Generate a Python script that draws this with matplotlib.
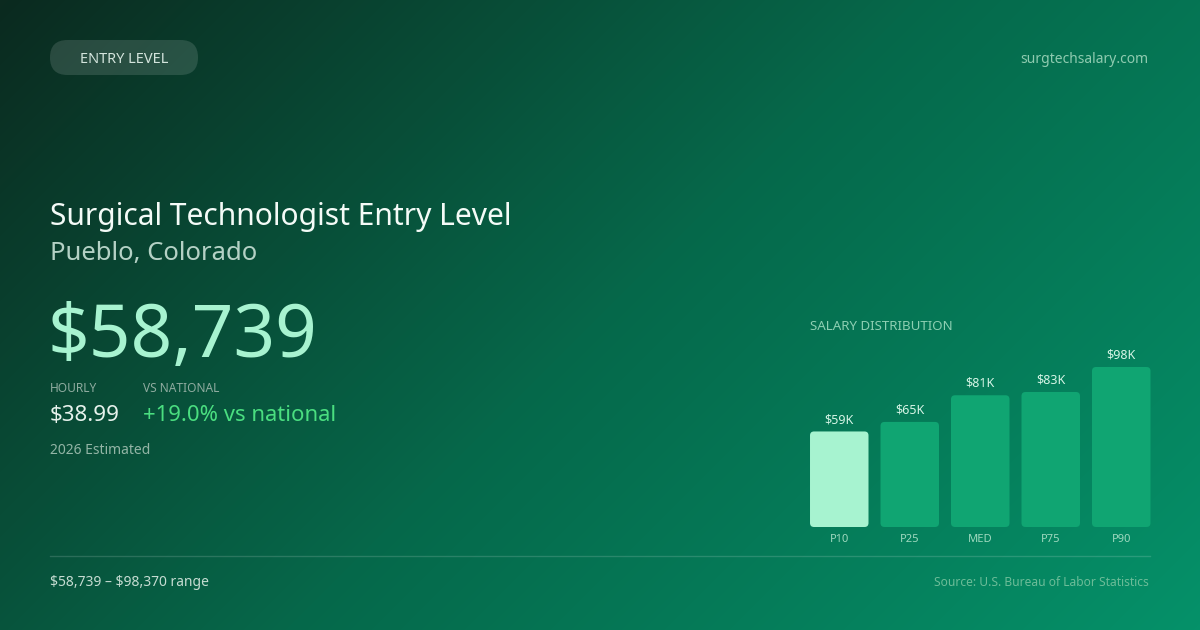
import numpy as np
import matplotlib
matplotlib.use("Agg")
import matplotlib.pyplot as plt
from matplotlib.colors import LinearSegmentedColormap
from matplotlib.patches import FancyBboxPatch

plt.rcParams['font.family'] = ['Noto Sans', 'DejaVu Sans']
plt.rcParams['text.parse_math'] = False

# data
categories = ["P10", "P25", "MED", "P75", "P90"]
salaries = [58739, 64600, 81000, 83000, 98370]
value_labels = ["$59K", "$65K", "$81K", "$83K", "$98K"]

title = "Surgical Technologist Entry Level"
location = "Pueblo, Colorado"
annual = "$58,739"
hourly = "$38.99"
vs_national = "+19.0% vs national"
badge = "ENTRY LEVEL"
site = "surgtechsalary.com"
range_text = "$58,739 \u2013 $98,370 range"
source = "Source: U.S. Bureau of Labor Statistics"

W, H = 1200, 630
fig = plt.figure(figsize=(12, 6.3), dpi=100)

# background, diagonal gradient
bg = fig.add_axes([0, 0, 1, 1])
bg.set_xlim(0, W)
bg.set_ylim(H, 0)
bg.axis('off')
xx, yy = np.meshgrid(np.arange(W), np.arange(H))
t = (xx + yy) / (W + H)
cmap = LinearSegmentedColormap.from_list(
    "bg", [(0, "#0b2a1f"), (0.5, "#06684a"), (1, "#059169")])
bg.imshow(t, cmap=cmap, extent=(0, W, H, 0), aspect='auto', vmin=0, vmax=1)

# badge
pill = FancyBboxPatch((50, 40), 148, 35, boxstyle="round,pad=0,rounding_size=17.5",
                      facecolor="white", alpha=0.13, edgecolor="none")
bg.add_patch(pill)
bg.text(124, 63, badge, fontsize=10.5, color="#d3e4dc", ha='center', va='baseline')
bg.text(1148, 63, site, fontsize=10, color="#8fcbb0", ha='right', va='baseline')

# headline text
bg.text(50, 225, title, fontsize=21.6, color="#f4fbf7", va='baseline')
bg.text(50, 260, location, fontsize=18.5, color="#b4d1c5", va='baseline')
bg.text(48, 357, annual, fontsize=52.5, color="#a7f3d0", va='baseline')

bg.text(50, 392, "HOURLY", fontsize=8.6, color="#8eab9f", va='baseline')
bg.text(143, 392, "VS NATIONAL", fontsize=8.6, color="#8eab9f", va='baseline')
bg.text(50, 421, hourly, fontsize=16.1, color="#e6f2ec", va='baseline')
bg.text(143, 421, vs_national, fontsize=15.9, color="#4ade80", va='baseline')
bg.text(50, 454, "2026 Estimated", fontsize=10, color="#93b5a6", va='baseline')

# footer
bg.plot([50, 1150], [556, 556], color="white", alpha=0.15, lw=1)
bg.text(50, 586, range_text, fontsize=10, color="#c5dcd2", va='baseline')
bg.text(1149, 586, source, fontsize=8.65, color="#6cbc98", ha='right', va='baseline')

bg.text(810, 330, "SALARY DISTRIBUTION", fontsize=9.6, color="#8dcfb2", va='baseline')

# bar chart
pitch = 70.5
ax = fig.add_axes([810 / W, 1 - 527 / H, 340.5 / W, 160 / H])
ax.set_xlim(-0.415, 4.415)
ax.set_ylim(0, max(salaries))
ax.patch.set_alpha(0)
for s in ax.spines.values():
    s.set_visible(False)
ax.set_yticks([])
x = np.arange(len(categories))
bar_colors = ["#a7f3d0"] + ["#10a572"] * (len(categories) - 1)
bars = ax.bar(x, salaries, width=58.5 / pitch, color=bar_colors)

y_per_px = max(salaries) / 160
aspect = y_per_px * pitch
for b, c in zip(bars, bar_colors):
    fb = FancyBboxPatch((b.get_x(), b.get_y()), b.get_width(), b.get_height(),
                        boxstyle="round,pad=0,rounding_size=%f" % (4 / pitch),
                        mutation_aspect=aspect, facecolor=c, edgecolor="none")
    ax.add_patch(fb)
    b.set_visible(False)

for i, v in enumerate(salaries):
    ax.annotate(value_labels[i], (i, v), xytext=(0, 6), textcoords='offset points',
                ha='center', va='baseline', fontsize=9, color="#d6f5e6")

ax.set_xticks(x, categories)
ax.tick_params(axis='x', length=0, pad=5, labelsize=8, labelcolor="#9fd9bf")

fig.savefig("out.png", dpi=100)
